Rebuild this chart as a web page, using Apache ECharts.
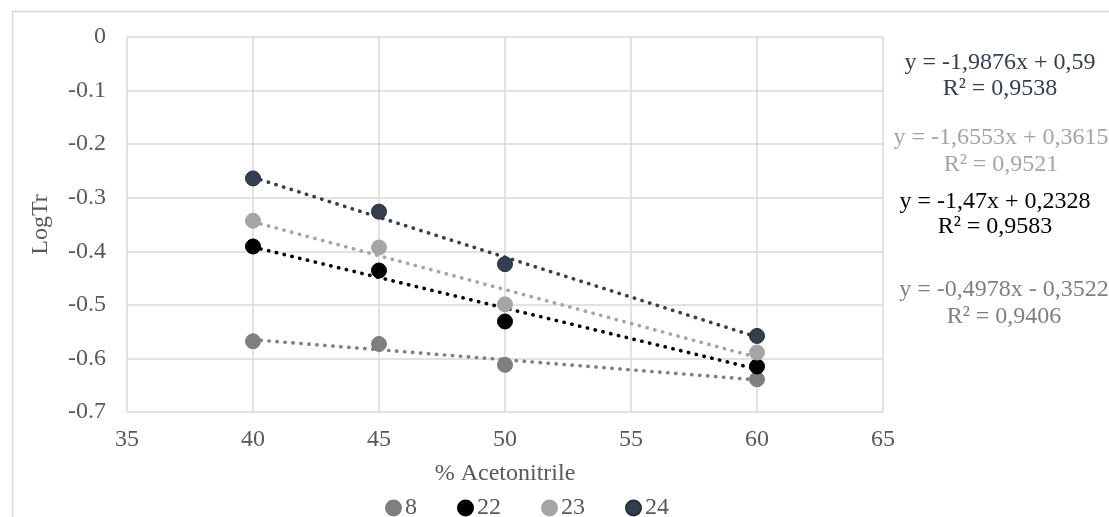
<!DOCTYPE html>
<html>
<head>
<meta charset="utf-8">
<script src="https://cdn.jsdelivr.net/npm/echarts@6/dist/echarts.min.js"></script>
<style>html,body{margin:0;padding:0;background:#fff;}#c{width:1109px;height:517px;}</style>
</head>
<body>
<div id="c"></div>
<script>
var xValues = [40, 45, 50, 60];
var seriesNames = ['8', '22', '23', '24'];
var s8  = [-0.568, -0.573, -0.612, -0.639];
var s22 = [-0.391, -0.436, -0.531, -0.615];
var s23 = [-0.343, -0.393, -0.499, -0.589];
var s24 = [-0.264, -0.326, -0.424, -0.558];
var trendX = [40, 60];
var t8  = [-0.565, -0.640];
var t22 = [-0.392, -0.620];
var t23 = [-0.345, -0.598];
var t24 = [-0.262, -0.560];
var eq24 = ['y = -1,9876x + 0,59', 'R² = 0,9538'];
var eq23 = ['y = -1,6553x + 0,3615', 'R² = 0,9521'];
var eq22 = ['y = -1,47x + 0,2328', 'R² = 0,9583'];
var eq8  = ['y = -0,4978x - 0,3522', 'R² = 0,9406'];
var xTicks = [35, 40, 45, 50, 55, 60, 65];
var yTicks = [0, -0.1, -0.2, -0.3, -0.4, -0.5, -0.6, -0.7];

var colors = {'8': '#7f7f7f', '22': '#000000', '23': '#a5a5a5', '24': '#333f50'};
var FONT = '"Liberation Serif", "Times New Roman", serif';

function pts(vals) { return xValues.map(function (x, i) { return [x, vals[i]]; }); }
function tpts(vals) { return trendX.map(function (x, i) { return [x, vals[i]]; }); }

var data = {'8': s8, '22': s22, '23': s23, '24': s24};
var trends = {'8': t8, '22': t22, '23': t23, '24': t24};

var series = [];
seriesNames.forEach(function (n) {
  series.push({
    name: n + ' trend', type: 'line', data: tpts(trends[n]), symbol: 'none', z: 2,
    lineStyle: {color: colors[n], width: 3.6, type: [0.3, 7.7], cap: 'round'},
    silent: true
  });
});
seriesNames.forEach(function (n) {
  series.push({
    name: n, type: 'scatter', data: pts(data[n]), symbol: 'circle', symbolSize: 15, z: 3,
    itemStyle: {color: colors[n], opacity: 1, borderColor: n === '24' ? '#252d3a' : colors[n], borderWidth: 1}
  });
});

function eqText(lines, color, x, y1, y2) {
  return [
    {type: 'text', x: x, y: y1, style: {text: lines[0], fill: color, font: '24px ' + FONT, textAlign: 'center', textVerticalAlign: 'middle'}},
    {type: 'text', x: x, y: y2, style: {text: lines[1], fill: color, font: '24px ' + FONT, textAlign: 'center', textVerticalAlign: 'middle'}}
  ];
}

var chart = echarts.init(document.getElementById('c'));
chart.setOption({
  animation: false,
  backgroundColor: '#ffffff',
  grid: {left: 127, top: 37, right: 226, bottom: 105},
  xAxis: {
    type: 'value', min: 35, max: 65, interval: 5,
    name: '% Acetonitrile', nameLocation: 'middle', nameGap: 50,
    nameTextStyle: {color: '#595959', fontSize: 24, fontFamily: FONT},
    axisLine: {show: false}, axisTick: {show: false},
    axisLabel: {color: '#595959', fontSize: 24, fontFamily: FONT, margin: 16,
      formatter: function (v) { return xTicks.indexOf(v) >= 0 ? String(v) : ''; }},
    splitLine: {show: true, lineStyle: {color: '#d9d9d9', width: 1.5}}
  },
  yAxis: {
    type: 'value', min: -0.7, max: 0, interval: 0.1,
    name: 'LogTr', nameLocation: 'middle', nameGap: 74,
    nameTextStyle: {color: '#595959', fontSize: 24, fontFamily: FONT},
    axisLine: {show: false}, axisTick: {show: false},
    axisLabel: {color: '#595959', fontSize: 24, fontFamily: FONT, margin: 21,
      formatter: function (v) {
        var r = Math.round(v * 10) / 10;
        return r === 0 ? '0' : r.toFixed(1);
      }},
    splitLine: {show: true, lineStyle: {color: '#d9d9d9', width: 1.5}}
  },
  legend: {
    data: seriesNames.map(function (n) { return {name: n, icon: 'circle'}; }),
    left: 380, top: 491, itemWidth: 15, itemHeight: 15, itemGap: 40,
    textStyle: {color: '#595959', fontSize: 24, fontFamily: FONT, padding: [0, 0, 0, -1]}
  },
  graphic: [
    {type: 'rect', shape: {x: 12.5, y: 11.5, width: 1120, height: 540}, style: {fill: 'none', stroke: '#d9d9d9', lineWidth: 1.5}, z: -1}
  ].concat(
    eqText(eq24, '#333f50', 1000, 63, 89),
    eqText(eq23, '#a5a5a5', 1001, 138, 165),
    eqText(eq22, '#000000', 995, 202, 227),
    eqText(eq8, '#7f7f7f', 1004, 290, 317)
  ),
  series: series
});
</script>
</body>
</html>
